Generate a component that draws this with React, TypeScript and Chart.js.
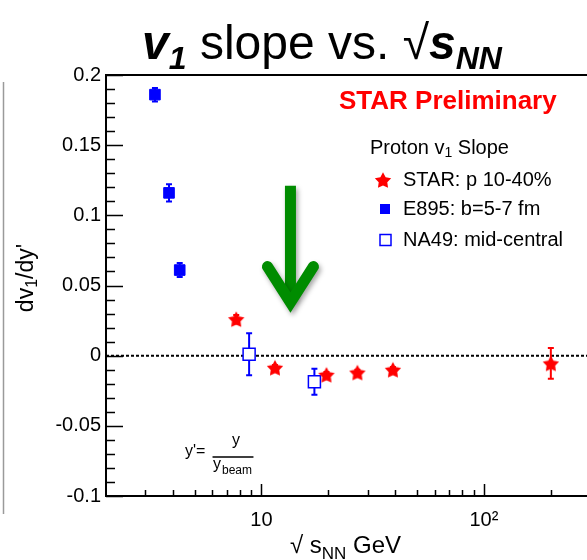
import React, { useEffect, useRef } from 'react';
import { Chart, registerables } from 'chart.js';
Chart.register(...registerables);

const FONT = '"Liberation Sans", Arial, Helvetica, sans-serif';

// ---- data ----
const starEnergy = [7.7, 11.5, 19.6, 27, 39, 200];
const starSlope = [0.026, -0.0086, -0.0136, -0.012, -0.01, -0.0055];
const starError = [0.003, 0.002, 0.002, 0.002, 0.002, 0.011];
const e895Energy = [3.32, 3.84, 4.29];
const e895Slope = [0.186, 0.116, 0.061];
const e895Error = [0.0048, 0.0062, 0.005];
const na49Energy = [8.8, 17.3];
const na49Slope = [0.001, -0.0186];
const na49Error = [0.015, 0.0093];
const seriesLabels = ['STAR: p 10-40%', 'E895: b=5-7 fm', 'NA49: mid-central'];
const yTickValues = [-0.1, -0.05, 0, 0.05, 0.1, 0.15, 0.2];
const yMinorStep = 0.01;
const xMajorTicks = [10, 100];
const xMajorLabels = ['10', '10\u00B2'];
const xMinorTicks = [3, 4, 5, 6, 7, 8, 9, 20, 30, 40, 50, 60, 70, 80, 90, 200, 300];
const arrowEnergy = 13.5;
const arrowFrom = 0.121;
const arrowTo = 0.03;

const RED = '#ff0000';
const BLUE = '#0000ff';
const GREEN = '#008c00';

type Seg = { t: string; f: string; dy?: number };

function drawSegs(ctx: CanvasRenderingContext2D, x: number, y: number, segs: Seg[], align: 'left' | 'center') {
  ctx.textAlign = 'left';
  let total = 0;
  for (const s of segs) {
    ctx.font = s.f;
    total += ctx.measureText(s.t).width;
  }
  let cx = align === 'center' ? x - total / 2 : x;
  for (const s of segs) {
    ctx.font = s.f;
    ctx.fillText(s.t, cx, y + (s.dy || 0));
    cx += ctx.measureText(s.t).width;
  }
}

function starPath(g: CanvasRenderingContext2D, cx: number, cy: number, R: number, r: number) {
  g.beginPath();
  for (let i = 0; i < 10; i++) {
    const ang = -Math.PI / 2 + (i * Math.PI) / 5;
    const rad = i % 2 === 0 ? R : r;
    g.lineTo(cx + rad * Math.cos(ang), cy + rad * Math.sin(ang));
  }
  g.closePath();
}

function makeStar(size: number, color: string) {
  const c = document.createElement('canvas');
  c.width = size;
  c.height = size;
  const g = c.getContext('2d')!;
  starPath(g, size / 2, size / 2 + 0.9, 8.6, 4.5);
  g.fillStyle = color;
  g.fill();
  return c;
}

export default function App() {
  const ref = useRef<HTMLCanvasElement | null>(null);

  useEffect(() => {
    const canvas = ref.current;
    if (!canvas) return;
    const starImg = makeStar(20, RED);

    const errorSets = [
      { xs: starEnergy, ys: starSlope, es: starError, color: RED },
      { xs: e895Energy, ys: e895Slope, es: e895Error, color: BLUE },
      { xs: na49Energy, ys: na49Slope, es: na49Error, color: BLUE },
    ];

    const decor = {
      id: 'decor',
      beforeDatasetsDraw(chart: any) {
        const { ctx, chartArea: a, scales } = chart;
        const x = scales.x;
        const y = scales.y;
        ctx.save();
        // slide artifact line at far left
        ctx.strokeStyle = '#9a9a9a';
        ctx.lineWidth = 1.5;
        ctx.beginPath();
        ctx.moveTo(3.5, 82);
        ctx.lineTo(3.5, 514);
        ctx.stroke();
        // zero line
        const y0 = y.getPixelForValue(0);
        ctx.strokeStyle = '#000';
        ctx.lineWidth = 2;
        ctx.setLineDash([3, 2]);
        ctx.beginPath();
        ctx.moveTo(a.left, y0);
        ctx.lineTo(a.right, y0);
        ctx.stroke();
        ctx.setLineDash([]);
        // error bars
        for (const s of errorSets) {
          ctx.strokeStyle = s.color;
          ctx.lineWidth = 2;
          s.xs.forEach((xv, i) => {
            const px = x.getPixelForValue(xv);
            const yl = y.getPixelForValue(s.ys[i] - s.es[i]);
            const yh = y.getPixelForValue(s.ys[i] + s.es[i]);
            ctx.beginPath();
            ctx.moveTo(px, yl);
            ctx.lineTo(px, yh);
            ctx.moveTo(px - 3, yl);
            ctx.lineTo(px + 3, yl);
            ctx.moveTo(px - 3, yh);
            ctx.lineTo(px + 3, yh);
            ctx.stroke();
          });
        }
        ctx.restore();
      },
      afterDatasetsDraw(chart: any) {
        const { ctx, chartArea: a, scales } = chart;
        const x = scales.x;
        const y = scales.y;
        ctx.save();
        // ticks
        ctx.strokeStyle = '#000';
        ctx.lineWidth = 1.5;
        ctx.beginPath();
        const nMinor = Math.round((y.max - y.min) / yMinorStep);
        for (let k = 0; k <= nMinor; k++) {
          const v = y.min + k * yMinorStep;
          const isMajor = yTickValues.some((t) => Math.abs(t - v) < 1e-6);
          const py = Math.round(y.getPixelForValue(v)) + 0.5;
          ctx.moveTo(a.left, py);
          ctx.lineTo(a.left + (isMajor ? 17 : 9), py);
        }
        for (const v of xMajorTicks) {
          const px = Math.round(x.getPixelForValue(v)) + 0.5;
          ctx.moveTo(px, a.bottom);
          ctx.lineTo(px, a.bottom - 12);
        }
        for (const v of xMinorTicks) {
          const px = Math.round(x.getPixelForValue(v)) + 0.5;
          ctx.moveTo(px, a.bottom);
          ctx.lineTo(px, a.bottom - 6);
        }
        ctx.stroke();
        // frame
        ctx.lineWidth = 2;
        ctx.strokeRect(a.left, a.top, a.right - a.left, a.bottom - a.top);

        // arrow
        const ax = x.getPixelForValue(arrowEnergy);
        const yTop = y.getPixelForValue(arrowFrom);
        const yTip = y.getPixelForValue(arrowTo);
        ctx.shadowColor = 'rgba(0,0,0,0.35)';
        ctx.shadowBlur = 5;
        ctx.shadowOffsetX = 2;
        ctx.shadowOffsetY = 3;
        ctx.strokeStyle = GREEN;
        ctx.lineWidth = 11;
        ctx.lineCap = 'butt';
        ctx.beginPath();
        ctx.moveTo(ax, yTop);
        ctx.lineTo(ax, yTip - 14);
        ctx.stroke();
        ctx.lineCap = 'round';
        ctx.lineJoin = 'miter';
        ctx.miterLimit = 10;
        ctx.beginPath();
        ctx.moveTo(ax - 23, yTip - 47);
        ctx.lineTo(ax, yTip - 11);
        ctx.lineTo(ax + 23, yTip - 47);
        ctx.stroke();
        ctx.shadowColor = 'transparent';
        ctx.shadowBlur = 0;
        ctx.shadowOffsetX = 0;
        ctx.shadowOffsetY = 0;

        // title
        ctx.fillStyle = '#000';
        ctx.textBaseline = 'alphabetic';
        drawSegs(
          ctx,
          322,
          59,
          [
            { t: 'v', f: `italic bold 48px ${FONT}` },
            { t: '1', f: `italic bold 32px ${FONT}`, dy: 10 },
            { t: ' slope vs. ', f: `48px ${FONT}` },
            { t: '\u221A', f: `48px ${FONT}` },
            { t: 's', f: `italic bold 48px ${FONT}` },
            { t: 'NN', f: `italic bold 32px ${FONT}`, dy: 10 },
          ],
          'center'
        );

        // y axis title
        ctx.save();
        ctx.translate(27, 278);
        ctx.rotate(-Math.PI / 2);
        ctx.textBaseline = 'middle';
        drawSegs(
          ctx,
          0,
          0,
          [
            { t: 'dv', f: `23px ${FONT}` },
            { t: '1', f: `16px ${FONT}`, dy: 6 },
            { t: "/dy'", f: `23px ${FONT}` },
          ],
          'center'
        );
        ctx.restore();

        // x axis title
        ctx.textBaseline = 'alphabetic';
        drawSegs(
          ctx,
          290,
          553,
          [
            { t: '\u221A s', f: `24px ${FONT}` },
            { t: 'NN', f: `17px ${FONT}`, dy: 6 },
            { t: ' GeV', f: `24px ${FONT}` },
          ],
          'left'
        );

        // STAR Preliminary
        ctx.fillStyle = RED;
        ctx.textBaseline = 'middle';
        drawSegs(ctx, 339, 102, [{ t: 'STAR Preliminary', f: `bold 26px ${FONT}` }], 'left');

        // legend
        ctx.fillStyle = '#000';
        drawSegs(
          ctx,
          370,
          148,
          [
            { t: 'Proton v', f: `20px ${FONT}` },
            { t: '1', f: `14px ${FONT}`, dy: 5 },
            { t: ' Slope', f: `20px ${FONT}` },
          ],
          'left'
        );
        const ly = [180, 209, 240];
        ctx.drawImage(starImg, 383 - starImg.width / 2, ly[0] - starImg.height / 2);
        ctx.fillStyle = BLUE;
        ctx.fillRect(380, ly[1] - 5, 10, 10);
        ctx.strokeStyle = BLUE;
        ctx.lineWidth = 1.5;
        ctx.strokeRect(380, ly[2] - 5.5, 11, 11);
        ctx.fillStyle = '#000';
        seriesLabels.forEach((lab, i) => {
          drawSegs(ctx, 403, ly[i], [{ t: lab, f: `20px ${FONT}` }], 'left');
        });

        // y' = y / y_beam
        ctx.textBaseline = 'alphabetic';
        drawSegs(ctx, 185, 456, [{ t: "y'=", f: `16px ${FONT}` }], 'left');
        ctx.strokeStyle = '#000';
        ctx.lineWidth = 1.3;
        ctx.beginPath();
        ctx.moveTo(213, 457);
        ctx.lineTo(253, 457);
        ctx.stroke();
        drawSegs(ctx, 236, 445, [{ t: 'y', f: `16px ${FONT}` }], 'center');
        drawSegs(ctx, 213, 469, [{ t: 'y', f: `16px ${FONT}` }], 'left');
        drawSegs(ctx, 222, 474, [{ t: 'beam', f: `12px ${FONT}` }], 'left');

        ctx.restore();
      },
    };

    const chart = new Chart(canvas, {
      type: 'scatter',
      data: {
        datasets: [
          {
            label: seriesLabels[0],
            data: starEnergy.map((xv, i) => ({ x: xv, y: starSlope[i] })),
            pointStyle: starImg as any,
            pointRadius: 9,
            backgroundColor: RED,
            borderColor: RED,
          },
          {
            label: seriesLabels[1],
            data: e895Energy.map((xv, i) => ({ x: xv, y: e895Slope[i] })),
            pointStyle: 'rect',
            pointRadius: 7.5,
            backgroundColor: BLUE,
            borderColor: BLUE,
            borderWidth: 1,
          },
          {
            label: seriesLabels[2],
            data: na49Energy.map((xv, i) => ({ x: xv, y: na49Slope[i] })),
            pointStyle: 'rect',
            pointRadius: 8.5,
            backgroundColor: '#ffffff',
            borderColor: BLUE,
            borderWidth: 1.5,
          },
        ],
      },
      options: {
        responsive: false,
        animation: false,
        devicePixelRatio: 1,
        layout: { padding: { top: 75, right: 6, left: 0, bottom: 0 } },
        plugins: {
          legend: { display: false },
          tooltip: { enabled: false },
          title: { display: false },
        },
        scales: {
          x: {
            type: 'logarithmic',
            min: 2,
            max: 300,
            grid: { display: false, drawTicks: false },
            border: { display: false },
            afterBuildTicks: (s: any) => {
              s.ticks = xMajorTicks.map((v) => ({ value: v }));
            },
            afterFit: (s: any) => {
              s.height = 64;
            },
            ticks: {
              autoSkip: false,
              maxRotation: 0,
              padding: 12,
              color: '#000',
              font: { family: FONT, size: 20 },
              callback: (v: any) => {
                const i = xMajorTicks.indexOf(Number(v));
                return i >= 0 ? xMajorLabels[i] : '';
              },
            },
          },
          y: {
            type: 'linear',
            min: -0.1,
            max: 0.2,
            grid: { display: false, drawTicks: false },
            border: { display: false },
            afterBuildTicks: (s: any) => {
              s.ticks = yTickValues.map((v) => ({ value: v }));
            },
            afterFit: (s: any) => {
              s.width = 106;
            },
            ticks: {
              padding: 5,
              color: '#000',
              font: { family: FONT, size: 20 },
              callback: (v: any) => String(Math.round(Number(v) * 100) / 100),
            },
          },
        },
      } as any,
      plugins: [decor],
    });

    return () => chart.destroy();
  }, []);

  return (
    <div style={{ position: 'absolute', left: 0, top: 0, width: 587, height: 560, overflow: 'hidden', background: '#fff' }}>
      <canvas ref={ref} width={600} height={560} style={{ width: 600, height: 560, display: 'block' }} />
    </div>
  );
}
